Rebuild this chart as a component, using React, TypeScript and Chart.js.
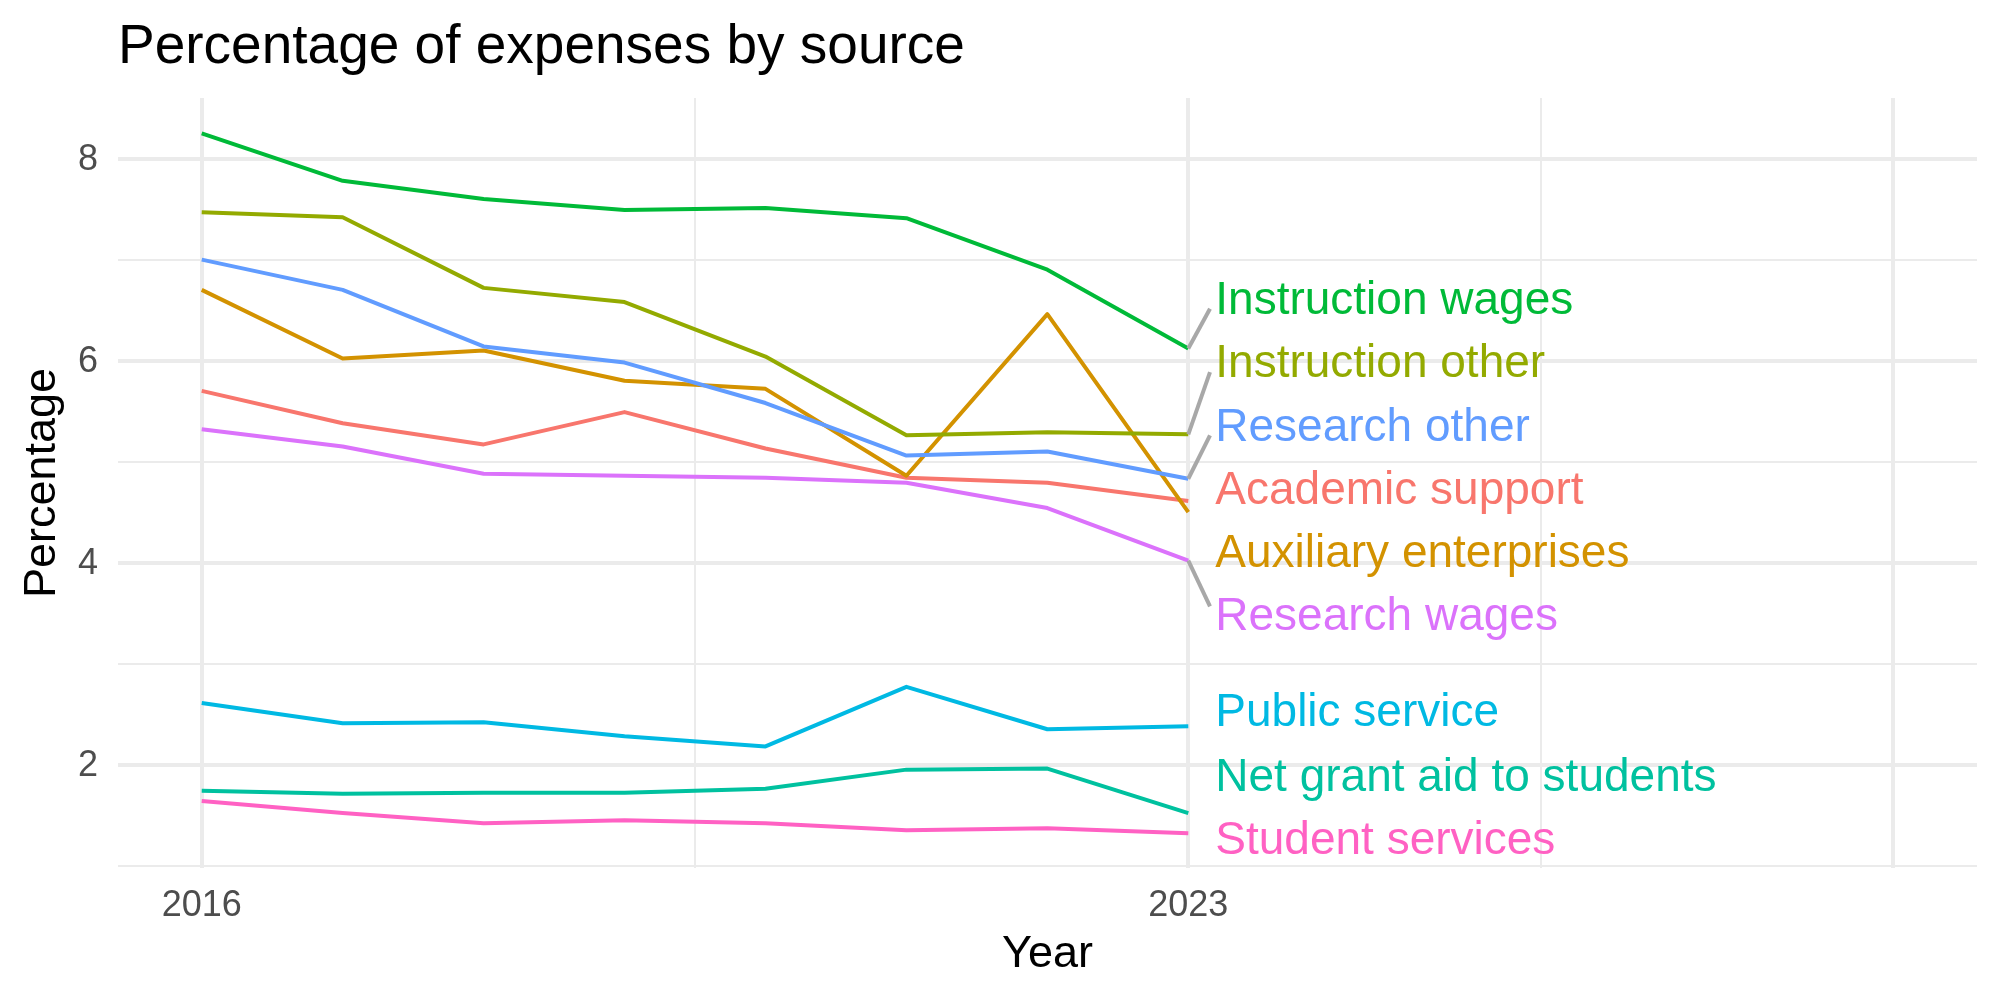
import { useEffect, useRef } from "react";
import { Chart, registerables } from "chart.js";

Chart.register(...registerables);

// ---- data ----
const years = [2016, 2017, 2018, 2019, 2020, 2021, 2022, 2023];

const seriesNames = [
  "Academic support",
  "Auxiliary enterprises",
  "Instruction other",
  "Instruction wages",
  "Net grant aid to students",
  "Public service",
  "Research other",
  "Research wages",
  "Student services",
];

const academicSupport = [5.70, 5.38, 5.17, 5.49, 5.13, 4.84, 4.79, 4.61];
const auxiliaryEnterprises = [6.70, 6.02, 6.10, 5.80, 5.72, 4.86, 6.46, 4.50];
const instructionOther = [7.47, 7.42, 6.72, 6.58, 6.04, 5.26, 5.29, 5.27];
const instructionWages = [8.25, 7.78, 7.60, 7.49, 7.51, 7.41, 6.90, 6.12];
const netGrantAid = [1.74, 1.71, 1.72, 1.72, 1.76, 1.95, 1.96, 1.52];
const publicService = [2.61, 2.41, 2.42, 2.28, 2.18, 2.77, 2.35, 2.38];
const researchOther = [7.00, 6.70, 6.14, 5.98, 5.58, 5.06, 5.10, 4.83];
const researchWages = [5.32, 5.15, 4.88, 4.86, 4.84, 4.79, 4.54, 4.02];
const studentServices = [1.64, 1.52, 1.42, 1.45, 1.42, 1.35, 1.37, 1.32];

const seriesValues = [
  academicSupport,
  auxiliaryEnterprises,
  instructionOther,
  instructionWages,
  netGrantAid,
  publicService,
  researchOther,
  researchWages,
  studentServices,
];

const seriesColors = [
  "#F8766D",
  "#D39200",
  "#93AA00",
  "#00BA38",
  "#00C19F",
  "#00B9E3",
  "#619CFF",
  "#DB72FB",
  "#FF61C3",
];

const xMajorBreaks = [2016, 2023, 2028];
const xTickLabels = ["2016", "2023", ""];
const xMinorBreaks = [2019.5, 2025.5];
const yMajorBreaks = [2, 4, 6, 8];
const yMinorBreaks = [1, 3, 5, 7];
const yTickLabels = ["2", "4", "6", "8"];

const chartTitle = "Percentage of expenses by source";
const xTitle = "Year";
const yTitle = "Percentage";

// ---- styling ----
const FONT = "'Liberation Sans', Arial, Helvetica, sans-serif";
const GRID = "#EBEBEB";
const MAJOR_W = 4;
const MINOR_W = 2;
const LINE_W = 4;
const LABEL_GAP = 63.3;
const LABEL_SHIFT = -15;
const LABEL_TEXT_DY = 2;
const LABEL_DX = 27;
const SEG_DX = 21.7;
const SEG_MIN = 45;

type LabelItem = { i: number; target: number; y?: number };

// spreads end-of-line labels vertically so they do not overlap
function spreadLabels(items: LabelItem[], gap: number) {
  const sorted = [...items].sort((a, b) => a.target - b.target);
  let clusters = sorted.map((m) => ({ members: [m], center: m.target }));
  let merged = true;
  while (merged) {
    merged = false;
    for (let k = 0; k < clusters.length - 1; k++) {
      const a = clusters[k];
      const b = clusters[k + 1];
      const aBottom = a.center + ((a.members.length - 1) / 2) * gap;
      const bTop = b.center - ((b.members.length - 1) / 2) * gap;
      if (bTop - aBottom < gap) {
        const members = [...a.members, ...b.members];
        const center = members.reduce((s, m) => s + m.target, 0) / members.length;
        clusters.splice(k, 2, { members, center });
        merged = true;
        break;
      }
    }
  }
  clusters.forEach((c) => {
    c.members.forEach((m, j) => {
      m.y = c.center + (j - (c.members.length - 1) / 2) * gap;
    });
  });
  return sorted;
}

const textPlugin = {
  id: "textLayer",
  afterDraw(chart: any) {
    const { ctx, chartArea, scales } = chart;
    const xs = scales.x;
    const ys = scales.y;
    ctx.save();

    // title
    ctx.fillStyle = "#000000";
    ctx.font = `55px ${FONT}`;
    ctx.textAlign = "left";
    ctx.textBaseline = "alphabetic";
    ctx.fillText(chartTitle, chartArea.left, 63.3);

    // y tick labels
    ctx.fillStyle = "#4D4D4D";
    ctx.font = `36px ${FONT}`;
    ctx.textAlign = "right";
    ctx.textBaseline = "middle";
    yMajorBreaks.forEach((v, k) => {
      ctx.fillText(yTickLabels[k], chartArea.left - 20, ys.getPixelForValue(v) + 1);
    });

    // x tick labels
    ctx.textAlign = "center";
    ctx.textBaseline = "alphabetic";
    xMajorBreaks.forEach((v, k) => {
      if (xTickLabels[k]) ctx.fillText(xTickLabels[k], xs.getPixelForValue(v), chartArea.bottom + 48);
    });

    // axis titles
    ctx.fillStyle = "#000000";
    ctx.font = `45px ${FONT}`;
    ctx.fillText(xTitle, (chartArea.left + chartArea.right) / 2, 967);
    ctx.save();
    ctx.translate(55, (chartArea.top + chartArea.bottom) / 2);
    ctx.rotate(-Math.PI / 2);
    ctx.textAlign = "center";
    ctx.fillText(yTitle, 0, 0);
    ctx.restore();

    // end labels with leader segments
    const lastIdx = years.length - 1;
    const endX = xs.getPixelForValue(years[lastIdx]);
    const items: LabelItem[] = seriesValues.map((vals, i) => ({
      i,
      target: ys.getPixelForValue(vals[lastIdx]) + LABEL_SHIFT,
    }));
    const placed = spreadLabels(items, LABEL_GAP);

    ctx.strokeStyle = "#A8A8A8";
    ctx.lineWidth = LINE_W;
    ctx.lineCap = "butt";
    placed.forEach((m) => {
      const endY = ys.getPixelForValue(seriesValues[m.i][lastIdx]);
      const dy = endY - (m.y as number);
      if (Math.abs(dy) > SEG_MIN) {
        ctx.beginPath();
        ctx.moveTo(endX, endY);
        ctx.lineTo(endX + SEG_DX, (m.y as number) + Math.sign(dy) * 9.5);
        ctx.stroke();
      }
    });

    ctx.font = `46px ${FONT}`;
    ctx.textAlign = "left";
    ctx.textBaseline = "middle";
    placed.forEach((m) => {
      ctx.fillStyle = seriesColors[m.i];
      ctx.fillText(seriesNames[m.i], endX + LABEL_DX, (m.y as number) + LABEL_TEXT_DY);
    });

    ctx.restore();
  },
};

export default function App() {
  const canvasRef = useRef<HTMLCanvasElement | null>(null);

  useEffect(() => {
    if (!canvasRef.current) return;
    const n = seriesNames.length;
    const xMajorSet = new Set(xMajorBreaks);
    const yMajorSet = new Set(yMajorBreaks);

    const chart = new Chart(canvasRef.current, {
      type: "line",
      data: {
        datasets: seriesNames.map((name, i) => ({
          label: name,
          data: years.map((yr, k) => ({ x: yr, y: seriesValues[i][k] })),
          borderColor: seriesColors[i],
          backgroundColor: seriesColors[i],
          borderWidth: LINE_W,
          borderJoinStyle: "round" as const,
          pointRadius: 0,
          pointHoverRadius: 0,
          tension: 0,
          fill: false,
          order: n - 1 - i,
        })),
      },
      options: {
        animation: false,
        responsive: false,
        devicePixelRatio: 1,
        events: [],
        layout: { padding: { left: 118, top: 98, right: 23, bottom: 132 } },
        plugins: {
          legend: { display: false },
          title: { display: false },
          tooltip: { enabled: false },
        },
        scales: {
          x: {
            type: "linear",
            min: 2015.406,
            max: 2028.596,
            border: { display: false },
            grid: {
              color: GRID,
              drawTicks: false,
              lineWidth: (c: any) => (xMajorSet.has(c.tick?.value) ? MAJOR_W : MINOR_W),
            },
            ticks: { display: false },
            afterBuildTicks: (scale: any) => {
              scale.ticks = [...xMajorBreaks, ...xMinorBreaks]
                .sort((a, b) => a - b)
                .map((v) => ({ value: v }));
            },
            afterFit: (scale: any) => {
              scale.height = 0;
            },
          },
          y: {
            type: "linear",
            min: 0.976,
            max: 8.6,
            border: { display: false },
            grid: {
              color: GRID,
              drawTicks: false,
              lineWidth: (c: any) => (yMajorSet.has(c.tick?.value) ? MAJOR_W : MINOR_W),
            },
            ticks: { display: false },
            afterBuildTicks: (scale: any) => {
              scale.ticks = [...yMajorBreaks, ...yMinorBreaks]
                .sort((a, b) => a - b)
                .map((v) => ({ value: v }));
            },
            afterFit: (scale: any) => {
              scale.width = 0;
            },
          },
        },
      },
      plugins: [textPlugin],
    });

    return () => chart.destroy();
  }, []);

  return (
    <div style={{ position: "absolute", left: 0, top: 0, width: 2000, height: 1000, background: "#ffffff" }}>
      <canvas ref={canvasRef} width={2000} height={1000} style={{ display: "block" }} />
    </div>
  );
}
